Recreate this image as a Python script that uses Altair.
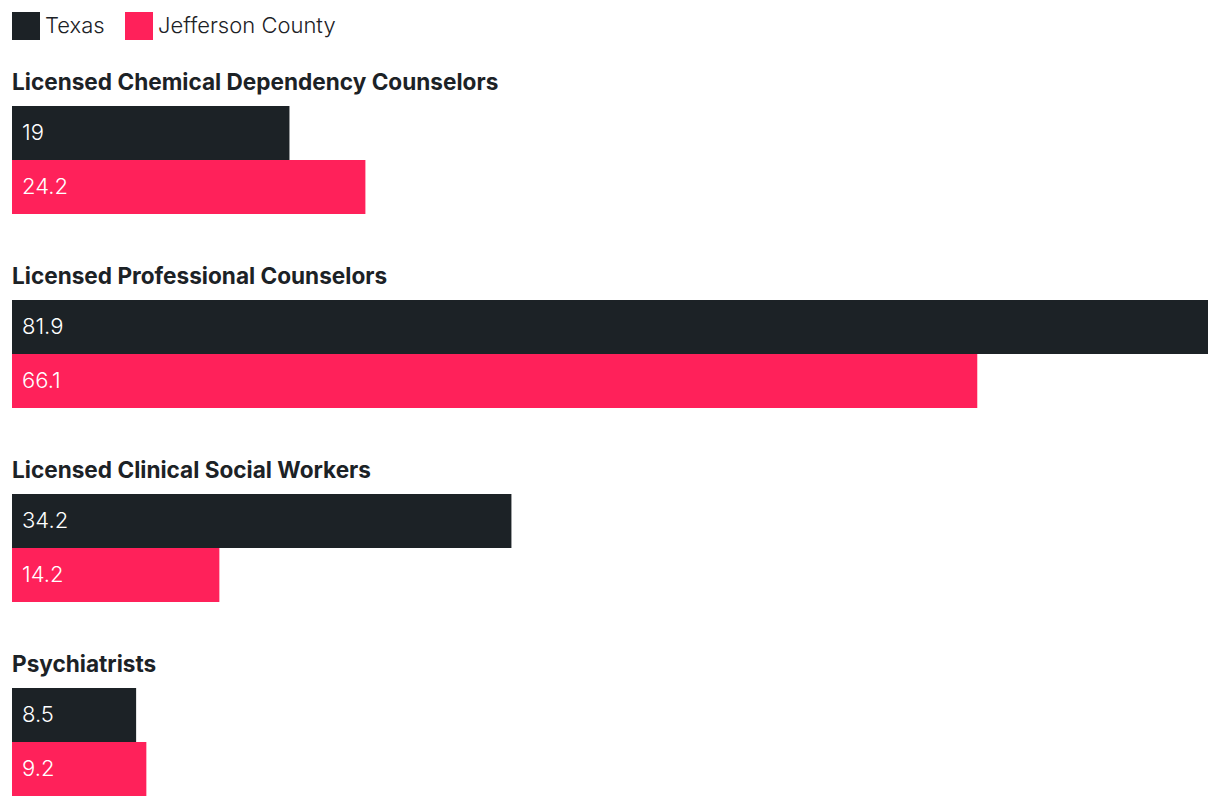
import altair as alt
import pandas as pd

categories = [
    "Licensed Chemical Dependency Counselors",
    "Licensed Professional Counselors",
    "Licensed Clinical Social Workers",
    "Psychiatrists",
]
series = ["Texas", "Jefferson County"]
texas = [19, 81.9, 34.2, 8.5]
jefferson = [24.2, 66.1, 14.2, 9.2]
colors = ["#1c2226", "#ff215a"]

rows = []
for c, t, j in zip(categories, texas, jefferson):
    rows.append({"category": c, "series": "Texas", "value": t})
    rows.append({"category": c, "series": "Jefferson County", "value": j})
df = pd.DataFrame(rows)

FONT = "Inter"
xscale = alt.Scale(domain=[0, 81.9], nice=False, zero=True)
color = alt.Color(
    "series:N",
    scale=alt.Scale(domain=series, range=colors),
    legend=alt.Legend(
        title=None,
        orient="top",
        direction="horizontal",
        symbolType="square",
        symbolSize=784,
        symbolStrokeWidth=0,
        labelFontSize=22,
        labelFont=FONT,
        labelFontWeight=300,
        labelColor="#1c2226",
        labelLimit=0,
        columnPadding=20,
        labelOffset=5,
        offset=32,
    ),
)

panels = []
for c in categories:
    base = alt.Chart(df).transform_filter(alt.datum.category == c)
    yenc = alt.Y(
        "series:N",
        sort=series,
        scale=alt.Scale(paddingInner=0, paddingOuter=0),
        axis=None,
    )
    bars = base.mark_bar().encode(
        x=alt.X("value:Q", scale=xscale, axis=None),
        y=yenc,
        color=color,
    )
    labels = base.mark_text(
        align="left", baseline="middle", dx=10, fontSize=22, font=FONT,
        fontWeight=300, color="white"
    ).encode(
        x=alt.datum(0),
        y=yenc,
        text=alt.Text("value:Q"),
    )
    panel = alt.layer(bars, labels).properties(
        width=1196,
        height=108,
        title=alt.TitleParams(
            c,
            anchor="start",
            fontSize=22.6,
            fontWeight="bold",
            font=FONT,
            color="#1c2226",
            offset=11,
        ),
    )
    panels.append(panel)

chart = (
    alt.vconcat(*panels, spacing=52)
    .resolve_scale(x="shared")
    .properties(padding={"left": 4, "right": 4, "top": 4, "bottom": 4})
    .configure_view(stroke=None)
)

chart.save("out.html", embed_options={"renderer": "svg", "actions": False})
